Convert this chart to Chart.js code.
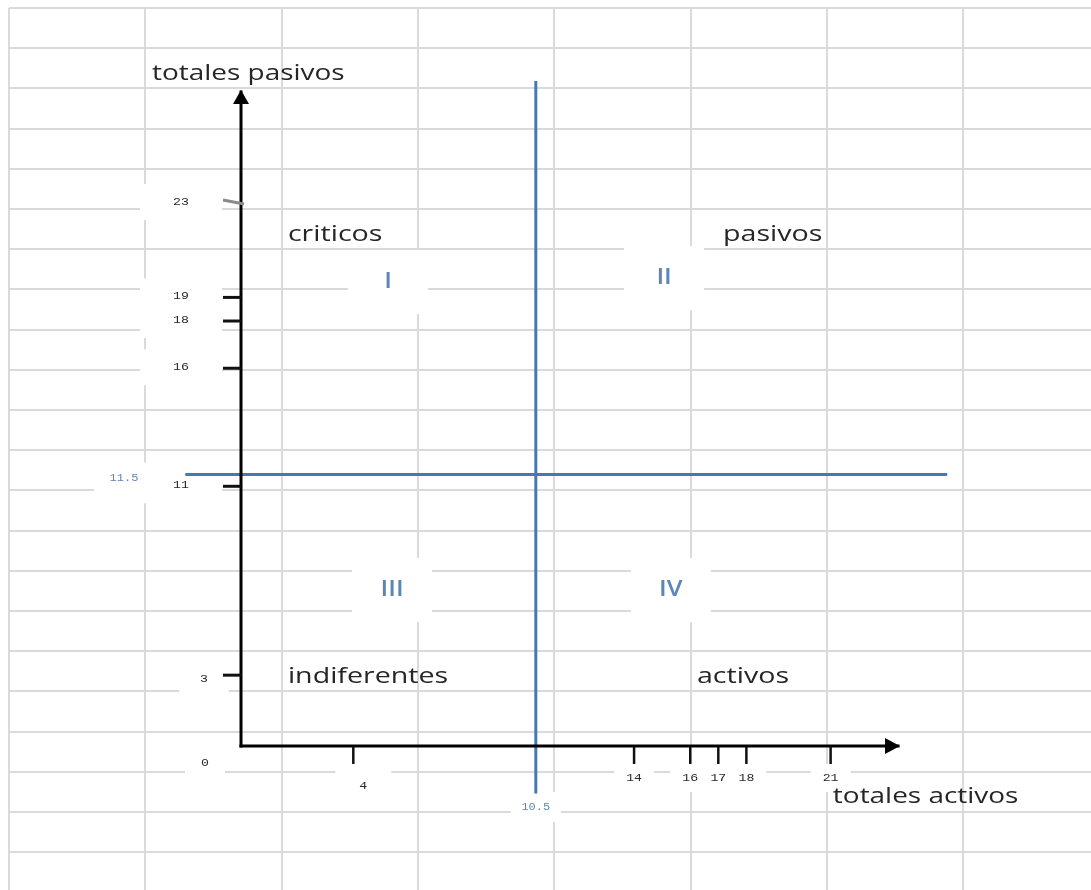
<!DOCTYPE html>
<html><head><meta charset="utf-8">
<script src="https://cdn.jsdelivr.net/npm/chart.js@4.4.1/dist/chart.umd.min.js"></script>
<style>html,body{margin:0;padding:0;background:#fff;overflow:hidden}#wrap{width:1091px;height:890px}</style>
</head><body><div id="wrap"><canvas id="c" width="1091" height="890"></canvas></div>
<script>
// ---- data ----
const xTickValues = [4, 14, 16, 17, 18, 21];
const yTickValues = [23, 19, 18, 16, 11, 3];
const originValue = 0;
const xSplit = 10.5;
const ySplit = 11.5;
const axisExtent = [23.4, 27.7];        // x max, y max (arrow tips)
const xSplitSpan = [-1.95, 28.1];       // vertical divider extent (y)
const ySplitSpan = [-1.93, 25.1];       // horizontal divider extent (x)
const quadrantNames = ['criticos', 'pasivos', 'indiferentes', 'activos'];
const quadrantNumerals = ['I', 'II', 'III', 'IV'];
const axisTitles = ['totales activos', 'totales pasivos'];

// ---- layout (data-space anchors for annotation text) ----
const nameAnchors = [[1.67, 21.39], [17.17, 21.39], [1.67, 2.67], [16.24, 2.67]];
const numeralAnchors = [[5.24, 19.65], [15.07, 19.82], [5.38, 6.61], [15.31, 6.61]];
const titleAnchors = [[21.08, -2.41], [-3.17, 28.21]];

const BLUE = '#4a78ad';
const TEXT = '#262626';

function stretchedText(c, txt, x, y, sx) {
  c.save();
  c.translate(x, y);
  c.scale(sx, 1);
  c.fillText(txt, 0, 0);
  c.restore();
}

const sheetPlugin = {
  id: 'sheet',
  beforeDraw(chart) {
    const c = chart.ctx;
    c.save();
    c.fillStyle = '#fff';
    c.fillRect(0, 0, chart.width, chart.height);
    c.strokeStyle = '#dadada';
    c.lineWidth = 2;
    c.beginPath();
    for (let k = 0; k < 8; k++) {
      const x = Math.round(9 + 136.3 * k);
      c.moveTo(x, 8); c.lineTo(x, chart.height);
    }
    for (let k = 0; k < 23; k++) {
      const y = Math.round(8 + 40.2 * k);
      c.moveTo(9, y); c.lineTo(chart.width, y);
    }
    c.stroke();
    // white text-box backgrounds
    const xs = chart.scales.x, ys = chart.scales.y;
    const x0 = xs.getPixelForValue(0), y0 = ys.getPixelForValue(0);
    c.fillStyle = '#fff';
    const box = (cx, cy, w, h) => c.fillRect(cx - w / 2, cy - h / 2, w, h);
    quadrantNumerals.forEach((n, i) => box(xs.getPixelForValue(numeralAnchors[i][0]), ys.getPixelForValue(numeralAnchors[i][1]), 80, 64));
    yTickValues.forEach(v => {
      const p = ys.getPixelForValue(v);
      if (v === 3) box(x0 - 37, p + 4, 50, 36); else box(x0 - 60, p - 1, 82, 36);
    });
    xTickValues.forEach(v => {
      const p = xs.getPixelForValue(v);
      if (v === 4) box(p + 10, y0 + 40, 56, 30); else box(p, y0 + 32, 40, 28);
    });
    box(x0 - 36, y0 + 17, 40, 28);
    box(x0 - 117, ys.getPixelForValue(ySplit) + 4, 60, 32);
    box(xs.getPixelForValue(xSplit), y0 + 61, 50, 30);
    c.restore();
  }
};

const overlayPlugin = {
  id: 'overlay',
  afterDatasetsDraw(chart) {
    const c = chart.ctx;
    const xs = chart.scales.x, ys = chart.scales.y;
    const x0 = xs.getPixelForValue(0), y0 = ys.getPixelForValue(0);
    c.save();
    // arrowheads
    c.fillStyle = '#000';
    const yt = ys.getPixelForValue(axisExtent[1]);
    c.beginPath(); c.moveTo(x0, yt - 2); c.lineTo(x0 - 8, yt + 12); c.lineTo(x0 + 8, yt + 12); c.closePath(); c.fill();
    const xt = xs.getPixelForValue(axisExtent[0]);
    c.beginPath(); c.moveTo(xt + 2, y0); c.lineTo(xt - 13, y0 - 8); c.lineTo(xt - 13, y0 + 8); c.closePath(); c.fill();
    // y tick marks
    c.lineWidth = 3;
    yTickValues.forEach(v => {
      const p = ys.getPixelForValue(v);
      c.strokeStyle = v === 23 ? '#8a8a8a' : '#111';
      c.beginPath();
      if (v === 23) { c.moveTo(x0 - 18, p - 3); c.lineTo(x0 + 3, p + 1); }
      else { c.moveTo(x0 - 18, p); c.lineTo(x0, p); }
      c.stroke();
    });
    // x tick marks
    c.lineWidth = 2.5; c.strokeStyle = '#111';
    xTickValues.forEach(v => {
      const p = xs.getPixelForValue(v);
      c.beginPath(); c.moveTo(p, y0 + 1); c.lineTo(p, y0 + 18); c.stroke();
    });
    // tick labels
    c.font = '11px "Liberation Mono"';
    c.fillStyle = '#2a2a2a';
    c.textAlign = 'center'; c.textBaseline = 'middle';
    const ts = 1.2;
    yTickValues.forEach(v => {
      const p = ys.getPixelForValue(v);
      if (v === 3) stretchedText(c, String(v), x0 - 37, p + 4, ts);
      else stretchedText(c, String(v), x0 - 60, p - 1, ts);
    });
    xTickValues.forEach(v => {
      const p = xs.getPixelForValue(v);
      if (v === 4) stretchedText(c, String(v), p + 10, y0 + 40, ts);
      else stretchedText(c, String(v), p, y0 + 32, ts);
    });
    stretchedText(c, String(originValue), x0 - 36, y0 + 17, ts);
    c.font = '10px "Liberation Mono"';
    c.fillStyle = '#5f87b8';
    stretchedText(c, String(ySplit), x0 - 117, ys.getPixelForValue(ySplit) + 4, ts);
    stretchedText(c, String(xSplit), xs.getPixelForValue(xSplit), y0 + 61, ts);
    // quadrant numerals
    c.font = '600 22px "Open Sans"';
    c.fillStyle = '#5a86b8';
    quadrantNumerals.forEach((n, i) => stretchedText(c, n, xs.getPixelForValue(numeralAnchors[i][0]), ys.getPixelForValue(numeralAnchors[i][1]), 1.15));
    // quadrant names and axis titles
    c.font = '22px "Open Sans"';
    c.fillStyle = TEXT;
    c.textAlign = 'left'; c.textBaseline = 'alphabetic';
    quadrantNames.forEach((n, i) => stretchedText(c, n, xs.getPixelForValue(nameAnchors[i][0]), ys.getPixelForValue(nameAnchors[i][1]), 1.3));
    axisTitles.forEach((t, i) => stretchedText(c, t, xs.getPixelForValue(titleAnchors[i][0]), ys.getPixelForValue(titleAnchors[i][1]), 1.27));
    c.restore();
  }
};

const lineDs = (pts, color) => ({
  data: pts, showLine: true, borderColor: color, backgroundColor: color,
  borderWidth: 3, pointRadius: 0, clip: false, borderCapStyle: 'square'
});

new Chart(document.getElementById('c'), {
  type: 'scatter',
  data: {
    datasets: [
      lineDs([{ x: 0, y: 0 }, { x: 0, y: axisExtent[1] }], '#000'),
      lineDs([{ x: 0, y: 0 }, { x: axisExtent[0], y: 0 }], '#000'),
      lineDs([{ x: xSplit, y: xSplitSpan[0] }, { x: xSplit, y: xSplitSpan[1] }], BLUE),
      lineDs([{ x: ySplitSpan[0], y: ySplit }, { x: ySplitSpan[1], y: ySplit }], BLUE)
    ]
  },
  options: {
    responsive: false, animation: false, devicePixelRatio: 1, events: [],
    layout: { padding: { left: 241, right: 193, top: 92, bottom: 144 } },
    plugins: { legend: { display: false }, tooltip: { enabled: false } },
    scales: {
      x: { type: 'linear', display: false, min: 0, max: axisExtent[0] },
      y: { type: 'linear', display: false, min: 0, max: axisExtent[1] }
    }
  },
  plugins: [sheetPlugin, overlayPlugin]
});
</script>
</body></html>
